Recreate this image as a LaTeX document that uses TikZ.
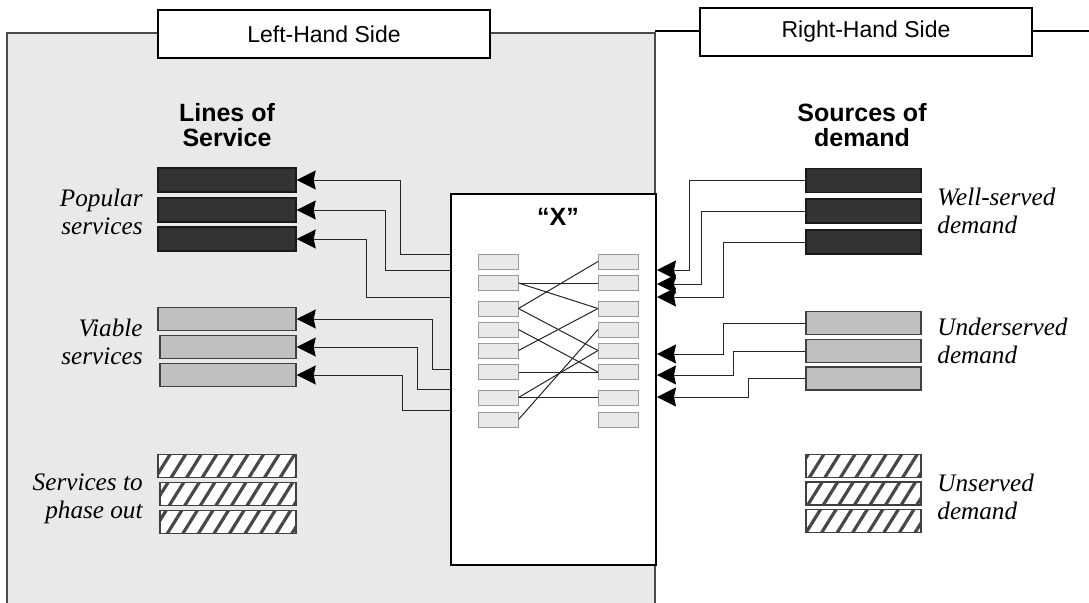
\documentclass[tikz,border=0pt]{standalone}
\usepackage{fontspec}
\setmainfont{Liberation Serif}
\setsansfont{Liberation Sans}
\usetikzlibrary{arrows.meta,patterns.meta}
\definecolor{panelgray}{HTML}{E9E9E9}
\definecolor{bardark}{HTML}{333333}
\definecolor{barlight}{HTML}{C0C0C0}
\begin{document}
\begin{tikzpicture}[x=0.5pt,y=-0.5pt,
  darkbar/.style={draw=black!90,fill=bardark,inner sep=0pt,line width=0.7pt},
  lightbar/.style={draw=black!75,fill=barlight,inner sep=0pt,line width=0.7pt},
  hatchbar/.style={draw=black!75,inner sep=0pt,line width=0.7pt,preaction={fill=white},
    pattern={Lines[angle=58,distance=6.6pt,line width=1.6pt]},pattern color=black!72},
  lbar/.style={minimum width=69pt,minimum height=11.5pt},
  rbar/.style={minimum width=57.5pt,minimum height=11.5pt},
  smallbox/.style={draw=black!40,fill=panelgray,minimum width=20pt,minimum height=7.5pt,inner sep=0pt,line width=0.5pt},
  sidebox/.style={draw=black,fill=white,line width=0.8pt,inner sep=0pt,minimum width=166pt,minimum height=24pt,
    font=\sffamily\fontsize{11.5}{13}\selectfont},
  heading/.style={align=center,font=\sffamily\bfseries\fontsize{12.5}{12.5}\selectfont},
  llabel/.style={align=right,anchor=east,inner sep=0pt,font=\itshape\fontsize{12.6}{14}\selectfont},
  rlabel/.style={align=left,anchor=west,inner sep=0pt,font=\itshape\fontsize{12.6}{14}\selectfont},
  link/.style={draw=black!85,line width=0.5pt},
  arr/.style={link,-{Stealth[length=9.5pt,width=9.5pt,inset=1pt,color=black,fill=black]}}
]
\useasboundingbox (0,0) rectangle (1089,602);
% panel
\draw[draw=black!70,fill=panelgray,line width=0.6pt] (7,610) -- (7,33) -- (655,33) -- (655,610);
\draw[line width=0.6pt] (655,31) -- (1089,31);
\node[sidebox] (lhs) at (324,34) {Left-Hand Side};
\node[sidebox] (rhs) at (866,32) {Right-Hand Side};

% headings
\node[heading] (hl) at (227,125) {Lines of\\Service};
\node[heading] (hr) at (862,125) {Sources of\\demand};

% left bars
\node[darkbar,lbar,minimum height=12pt] (lb1) at (227,180) {};
\node[darkbar,lbar,minimum height=12pt] (lb2) at (227,210) {};
\node[darkbar,lbar,minimum height=12pt] (lb3) at (227,239) {};
\node[lightbar,lbar] (lb4) at (227,319) {};
\node[lightbar,lbar,minimum width=68pt] (lb5) at (228,347) {};
\node[lightbar,lbar,minimum width=68pt] (lb6) at (228,375) {};
\node[hatchbar,lbar] (lb7) at (227,466) {};
\node[hatchbar,lbar,minimum width=68pt] (lb8) at (228,494) {};
\node[hatchbar,lbar,minimum width=68pt] (lb9) at (228,522) {};

% right bars
\node[darkbar,rbar,minimum height=12pt] (rb1) at (863.5,180.5) {};
\node[darkbar,rbar,minimum height=12pt] (rb2) at (863.5,211) {};
\node[darkbar,rbar,minimum height=12pt] (rb3) at (863.5,242) {};
\node[lightbar,rbar] (rb4) at (863.5,323) {};
\node[lightbar,rbar] (rb5) at (863.5,351) {};
\node[lightbar,rbar] (rb6) at (863.5,378.5) {};
\node[hatchbar,rbar] (rb7) at (863.5,466) {};
\node[hatchbar,rbar] (rb8) at (863.5,493.5) {};
\node[hatchbar,rbar] (rb9) at (863.5,521) {};

% labels
\node[llabel] (t1) at (143,212) {Popular\\services};
\node[llabel] (t2) at (143,342) {Viable\\services};
\node[llabel] (t3) at (143,499) {Services to\\phase out};
\node[rlabel] (t4) at (937,211) {Well-served\\demand};
\node[rlabel] (t5) at (937,341) {Underserved\\demand};
\node[rlabel] (t6) at (937,497) {Unserved\\demand};

% X box
\node[draw=black,fill=white,line width=1pt,minimum width=102.5pt,minimum height=185.5pt,inner sep=0pt] (X) at (553.5,379.5) {};
\node[font=\sffamily\bfseries\fontsize{12.5}{13}\selectfont] (xt) at (558,217) {“X”};

\foreach \i/\y in {1/261.5,2/283,3/308.5,4/329.5,5/350.5,6/372,7/397.5,8/419.5}{
  \node[smallbox] (a\i) at (498,\y) {};
  \node[smallbox] (b\i) at (618.5,\y) {};
}
% crossing links
\draw[link] (a2.east) -- (b2.west);
\draw[link] (a2.east) -- (b3.west);
\draw[link] (a3.east) -- (b1.west);
\draw[link] (a3.east) -- (b5.west);
\draw[link] (a4.east) -- (b6.west);
\draw[link] (a5.east) -- (b3.west);
\draw[link] (a6.east) -- (b6.west);
\draw[link] (a7.east) -- (b5.west);
\draw[link] (a7.east) -- (b7.west);
\draw[link] (a8.east) -- (b4.west);

% arrows to left bars
\draw[arr] (X.west |- 0,254) -- (400,254) |- (lb1.east);
\draw[arr] (X.west |- 0,270) -- (385,270) |- (lb2.east);
\draw[arr] (X.west |- 0,297) -- (366,297) |- (lb3.east);
\draw[arr] (X.west |- 0,369) -- (432,369) |- (lb4.east);
\draw[arr] (X.west |- 0,389) -- (417,389) |- (lb5.east);
\draw[arr] (X.west |- 0,410) -- (402,410) |- (lb6.east);

% arrows from right bars
\draw[arr] (rb1.west) -| (689,270) -- (X.east |- 0,270);
\draw[arr] (rb2.west) -| (701,284) -- (X.east |- 0,284);
\draw[arr] (rb3.west) -| (723,297) -- (X.east |- 0,297);
\draw[arr] (rb4.west) -| (723,354) -- (X.east |- 0,354);
\draw[arr] (rb5.west) -| (733,375) -- (X.east |- 0,375);
\draw[arr] (rb6.west) -| (748,397) -- (X.east |- 0,397);
\end{tikzpicture}
\end{document}
